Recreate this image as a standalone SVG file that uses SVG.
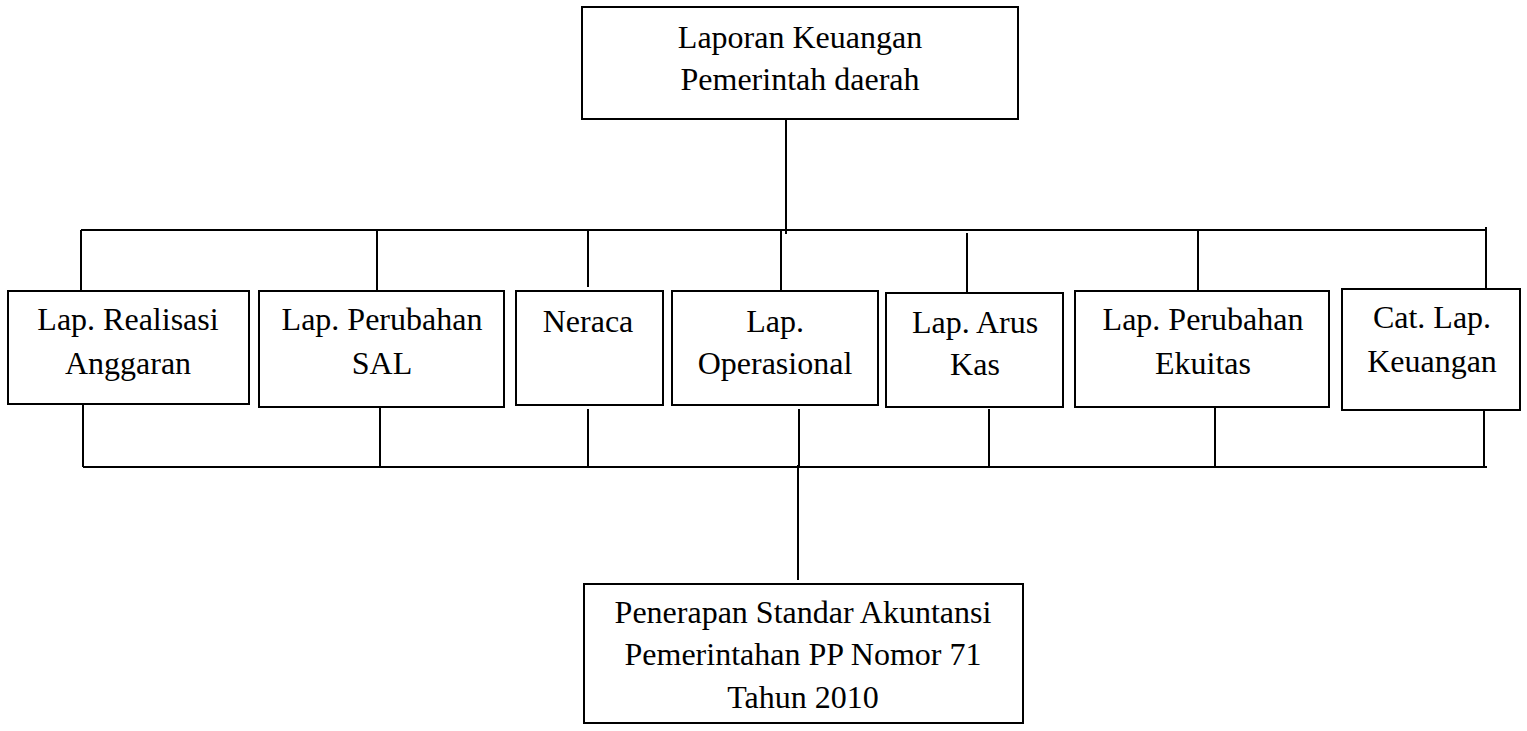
<svg xmlns="http://www.w3.org/2000/svg" width="1527" height="731" viewBox="0 0 1527 731">
<style>
rect{fill:#fff;stroke:#000;stroke-width:2}
text{font-family:'Liberation Serif',Tinos,'Times New Roman',Times,'DejaVu Serif',serif;font-size:32px;fill:#000;text-anchor:middle}
#connectors line{stroke:#000;stroke-width:2}
</style>
<rect x="0" y="0" width="1527" height="731" style="stroke:none"/>
<g id="connectors">
<line x1="786" y1="119" x2="786" y2="234"/>
<line x1="81" y1="230" x2="1487" y2="230"/>
<line x1="81" y1="230" x2="81" y2="291"/>
<line x1="377" y1="230" x2="377" y2="291"/>
<line x1="588" y1="230" x2="588" y2="287"/>
<line x1="781" y1="231" x2="781" y2="291"/>
<line x1="967" y1="233" x2="967" y2="293"/>
<line x1="1198" y1="230" x2="1198" y2="291"/>
<line x1="1486" y1="227" x2="1486" y2="289"/>
<line x1="83" y1="404" x2="83" y2="467"/>
<line x1="380" y1="407" x2="380" y2="467"/>
<line x1="588" y1="409" x2="588" y2="467"/>
<line x1="799" y1="409" x2="799" y2="467"/>
<line x1="989" y1="409" x2="989" y2="467"/>
<line x1="1215" y1="407" x2="1215" y2="467"/>
<line x1="1484" y1="410" x2="1484" y2="467"/>
<line x1="83" y1="467" x2="1487" y2="467"/>
<line x1="798" y1="465" x2="798" y2="580"/>
</g>
<g id="node-top">
<rect x="582" y="7" width="436" height="112"/>
<text x="800" y="48">Laporan Keuangan</text>
<text x="800" y="90">Pemerintah daerah</text>
</g>
<g id="node-lra">
<rect x="8" y="291" width="241" height="113"/>
<text x="128" y="330">Lap. Realisasi</text>
<text x="128" y="374">Anggaran</text>
</g>
<g id="node-lpsal">
<rect x="259" y="291" width="245" height="116"/>
<text x="382" y="330">Lap. Perubahan</text>
<text x="382" y="374">SAL</text>
</g>
<g id="node-neraca">
<rect x="516" y="291" width="147" height="114"/>
<text x="588" y="332">Neraca</text>
</g>
<g id="node-lo">
<rect x="672" y="291" width="206" height="114"/>
<text x="775" y="332">Lap.</text>
<text x="775" y="374">Operasional</text>
</g>
<g id="node-lak">
<rect x="886" y="293" width="177" height="114"/>
<text x="975" y="333">Lap. Arus</text>
<text x="975" y="375">Kas</text>
</g>
<g id="node-lpe">
<rect x="1075" y="291" width="254" height="116"/>
<text x="1203" y="330">Lap. Perubahan</text>
<text x="1203" y="374">Ekuitas</text>
</g>
<g id="node-calk">
<rect x="1342" y="289" width="178" height="121"/>
<text x="1432" y="328">Cat. Lap.</text>
<text x="1432" y="372">Keuangan</text>
</g>
<g id="node-sap">
<rect x="584" y="584" width="439" height="139"/>
<text x="803" y="623">Penerapan Standar Akuntansi</text>
<text x="803" y="665">Pemerintahan PP Nomor 71</text>
<text x="803" y="708">Tahun 2010</text>
</g>
</svg>
